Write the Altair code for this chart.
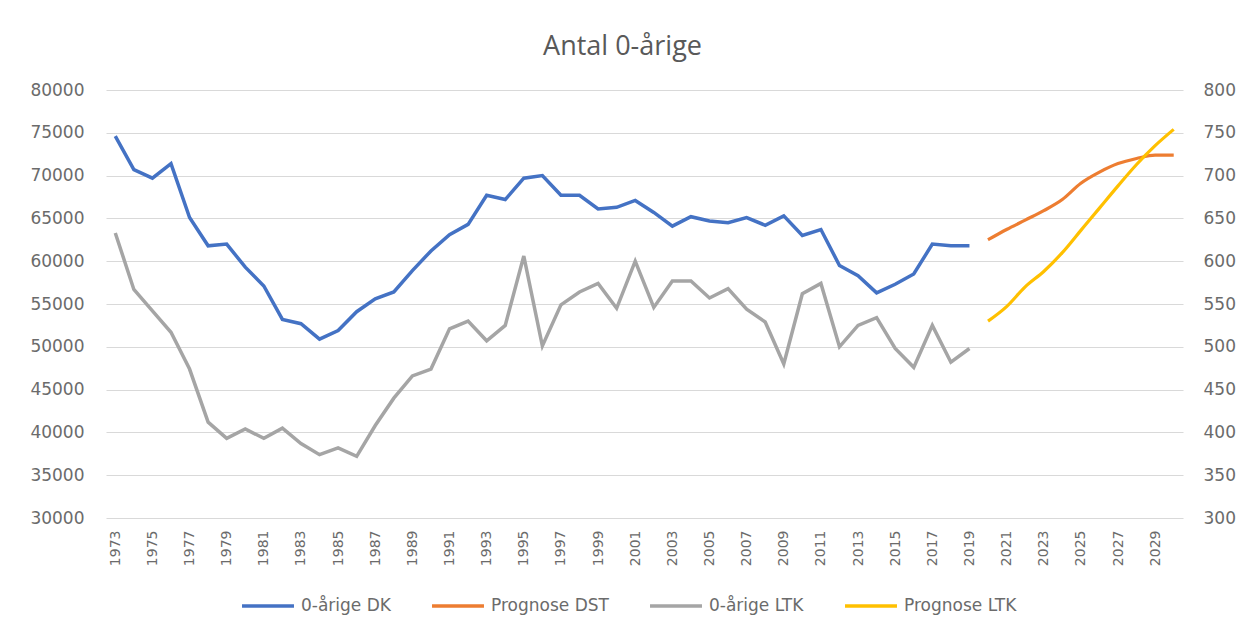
import altair as alt
import pandas as pd

years_hist = list(range(1973, 2020))
years_prog = list(range(2020, 2031))
all_years = list(range(1973, 2031))
tick_years = list(range(1973, 2031, 2))

dk = [74600, 70700, 69700, 71400, 65100, 61800, 62000, 59300, 57100, 53200,
      52700, 50900, 51900, 54100, 55600, 56400, 58900, 61200, 63100, 64300,
      67700, 67200, 69700, 70000, 67700, 67700, 66100, 66300, 67100, 65700,
      64100, 65200, 64700, 64500, 65100, 64200, 65300, 63000, 63700, 59500,
      58300, 56300, 57300, 58500, 62000, 61800, 61800]
ltk = [633, 567, 542, 517, 474, 412, 393, 404, 393, 405,
       387, 374, 382, 372, 408, 440, 466, 474, 521, 530,
       507, 525, 606, 501, 549, 564, 574, 545, 600, 546,
       577, 577, 557, 568, 544, 529, 480, 562, 574, 500,
       525, 534, 498, 476, 525, 482, 498]
prog_dst = [62500, 63700, 64800, 65900, 67200, 69100, 70400, 71400, 72000, 72400, 72400]
prog_ltk = [530, 547, 570, 588, 610, 636, 662, 688, 713, 735, 754]

series_names = ["0-årige DK", "Prognose DST", "0-årige LTK", "Prognose LTK"]
series_colors = ["#4472C4", "#ED7D31", "#A5A5A5", "#FFC000"]

df_dk = pd.DataFrame({"year": years_hist, "value": dk, "series": series_names[0]})
df_dst = pd.DataFrame({"year": years_prog, "value": prog_dst, "series": series_names[1]})
df_ltk = pd.DataFrame({"year": years_hist, "value": ltk, "series": series_names[2]})
df_pltk = pd.DataFrame({"year": years_prog, "value": prog_ltk, "series": series_names[3]})

LABEL_FONT = "DejaVu Sans"
LABEL_COLOR = "#6b6b6b"
GRID = "#d9d9d9"

x_enc = alt.X(
    "year:O",
    scale=alt.Scale(domain=all_years),
    axis=alt.Axis(values=tick_years, labelAngle=-90, labelFont=LABEL_FONT,
                  labelFontSize=14, labelColor=LABEL_COLOR, ticks=False,
                  domain=False, grid=False, gridOpacity=0, labelPadding=12, title=None),
)

color_enc = alt.Color(
    "series:N",
    scale=alt.Scale(domain=series_names, range=series_colors),
    legend=alt.Legend(orient="none", legendX=134, legendY=488, direction="horizontal",
                      title=None, symbolType="stroke", symbolSize=2700,
                      symbolStrokeWidth=3.5, labelFont=LABEL_FONT, labelFontSize=17,
                      labelColor=LABEL_COLOR, columnPadding=34, labelOffset=5),
)

y_left = alt.Y(
    "value:Q",
    scale=alt.Scale(domain=[30000, 80000], nice=False, zero=False),
    axis=alt.Axis(values=list(range(30000, 80001, 5000)), format="d",
                  labelFont=LABEL_FONT, labelFontSize=17, labelColor=LABEL_COLOR,
                  labelPadding=22, ticks=False, domain=False, domainWidth=0,
                  grid=True, gridColor=GRID, gridWidth=1.2, title=None),
)
y_right = alt.Y(
    "value:Q",
    scale=alt.Scale(domain=[300, 800], nice=False, zero=False),
    axis=alt.Axis(orient="right", values=list(range(300, 801, 50)), format="d",
                  labelFont=LABEL_FONT, labelFontSize=17, labelColor=LABEL_COLOR,
                  labelPadding=20, ticks=False, domain=False, domainWidth=0,
                  grid=False, gridOpacity=0, title=None),
)

l_dk = alt.Chart(df_dk).mark_line(strokeWidth=3.5).encode(x=x_enc, y=y_left, color=color_enc)
l_dst = alt.Chart(df_dst).mark_line(strokeWidth=3.2, interpolate="monotone").encode(x=x_enc, y=y_left, color=color_enc)
l_ltk = alt.Chart(df_ltk).mark_line(strokeWidth=3.5).encode(x=x_enc, y=y_right, color=color_enc)
l_pltk = alt.Chart(df_pltk).mark_line(strokeWidth=3.2, interpolate="monotone").encode(x=x_enc, y=y_right, color=color_enc)

chart = alt.layer(
    alt.layer(l_dk, l_dst),
    alt.layer(l_ltk, l_pltk),
).resolve_scale(y="independent").properties(
    width=1077,
    height=428,
    autosize=alt.AutoSizeParams(type="none"),
    padding={"left": 98, "top": 82, "right": 53, "bottom": 106},
    background="white",
    title=alt.TitleParams("Antal 0-årige", font="Open Sans", fontSize=27,
                          fontWeight="normal", color="#595959", anchor="middle",
                          offset=20, dx=-22),
).configure(
    view=alt.ViewConfig(stroke=None, strokeWidth=0),
).configure_axisX(grid=False, gridOpacity=0, domain=False)

chart.save("out.html", embed_options={"renderer": "svg", "actions": False})
